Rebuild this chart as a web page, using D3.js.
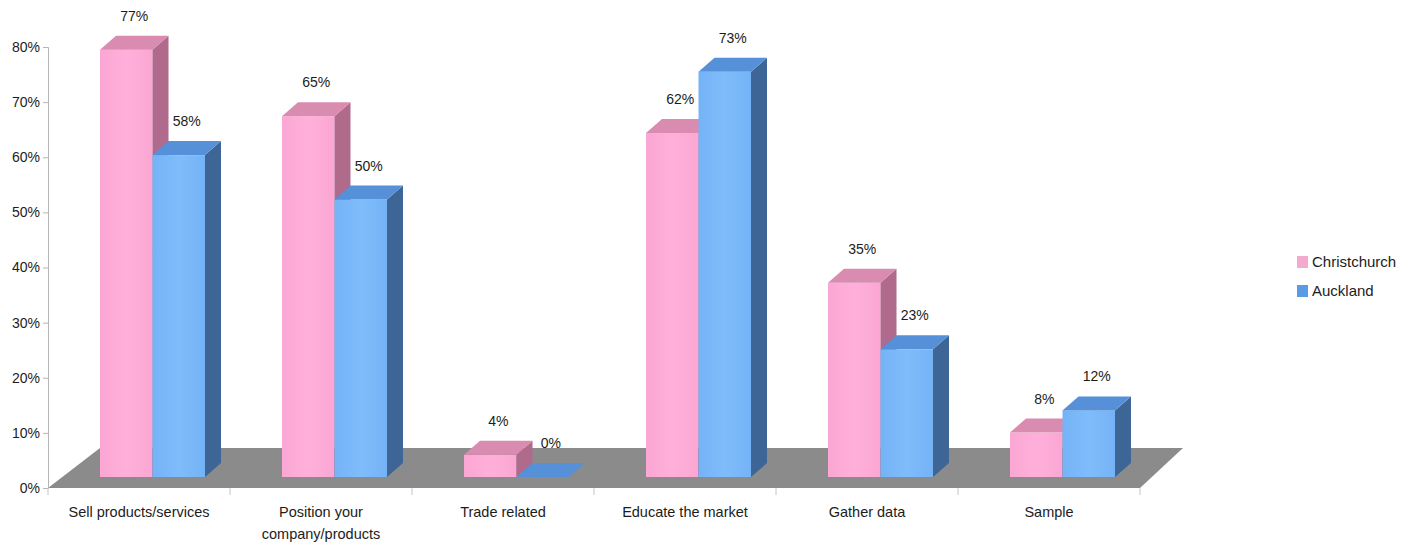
<!DOCTYPE html>
<html>
<head>
<meta charset="utf-8">
<script src="https://cdn.jsdelivr.net/npm/d3@7"></script>
<style>
  html, body { margin: 0; padding: 0; background: #ffffff; }
  svg { display: block; }
  text { font-family: "Liberation Sans", Arial, sans-serif; fill: #1c1c1c; }
</style>
</head>
<body>
<svg id="chart" width="1416" height="546"></svg>
<script>
const categories = ["Sell products/services", "Position your\ncompany/products", "Trade related", "Educate the market", "Gather data", "Sample"];
const seriesNames = ["Christchurch", "Auckland"];
const christchurch = [77, 65, 4, 62, 35, 8];
const auckland = [58, 50, 0, 73, 23, 12];
const yTicks = [0, 10, 20, 30, 40, 50, 60, 70, 80];

const colors = {
  Christchurch: { front: "#fba6d4", light: "#ffb0da", top: "#d98bb0", side: "#b06a8c", legend: "#f4a9cf" },
  Auckland: { front: "#74b3f6", light: "#7fbcfb", top: "#5590d8", side: "#3d6596", legend: "#5a9be6" }
};

const svg = d3.select("#chart");
const defs = svg.append("defs");
seriesNames.forEach(s => {
  const g = defs.append("linearGradient").attr("id", "grad-" + s).attr("x1", "0").attr("x2", "1").attr("y1", "0").attr("y2", "0");
  g.append("stop").attr("offset", "0%").attr("stop-color", colors[s].front);
  g.append("stop").attr("offset", "50%").attr("stop-color", colors[s].light);
  g.append("stop").attr("offset", "100%").attr("stop-color", colors[s].front);
});

// scales
const y = d3.scaleLinear().domain([0, 80]).range([488, 47]);
const barY = d3.scaleLinear().domain([0, 80]).range([477, 33]);
const x = d3.scaleBand().domain(categories).range([48, 1140]).paddingInner(0).paddingOuter(0);
const groupWidth = 105;
const xs = d3.scaleBand().domain(seriesNames).range([0, groupWidth]);
const shiftX = 13.5;            // depth shift of bars on floor
const depth = { dx: 16, dy: -14 }; // bar 3D depth
const floorDepth = { dxL: 52, dxR: 43, dy: -40 };

// floor
const x0 = x.range()[0], x1 = x.range()[1], yb = y(0);
svg.append("polygon")
  .attr("points", [[x0, yb], [x1, yb], [x1 + floorDepth.dxR, yb + floorDepth.dy], [x0 + floorDepth.dxL, yb + floorDepth.dy]].map(p => p.join(",")).join(" "))
  .attr("fill", "#8b8b8b");

// y axis
const yAxis = d3.axisLeft(y).tickValues(yTicks).tickFormat(d => d + "%").tickSize(5).tickPadding(3);
const gy = svg.append("g").attr("transform", `translate(${x0},0)`).call(yAxis);
gy.select(".domain").attr("stroke", "#b5b5b5");
gy.selectAll(".tick line").attr("stroke", "#b5b5b5");
gy.selectAll(".tick text").attr("font-size", 14).attr("font-family", "Liberation Sans, Arial, sans-serif").attr("fill", "#1c1c1c");

// x tick marks at band boundaries
const boundaries = categories.map(c => x(c)).concat([x1]);
svg.append("g").selectAll("line").data(boundaries).join("line")
  .attr("x1", d => d).attr("x2", d => d).attr("y1", yb).attr("y2", yb + 7)
  .attr("stroke", "#c4c4c4");

// bars
const data = categories.map((c, i) => ({ cat: c, values: [ { s: "Christchurch", v: christchurch[i] }, { s: "Auckland", v: auckland[i] } ] }));
const offset = (x.bandwidth() - groupWidth) / 2 + shiftX;

data.forEach(d => {
  const g = svg.append("g");
  d.values.forEach(b => {
    const bx0 = x(d.cat) + offset + xs(b.s);
    const bx1 = bx0 + xs.bandwidth();
    const top = barY(b.v);
    const base = barY(0);
    const c = colors[b.s];
    if (b.v > 0) {
      g.append("rect").attr("x", bx0).attr("y", top).attr("width", bx1 - bx0).attr("height", base - top)
        .attr("fill", `url(#grad-${b.s})`);
      g.append("polygon")
        .attr("points", [[bx1, top], [bx1 + depth.dx, top + depth.dy], [bx1 + depth.dx, base + depth.dy], [bx1, base]].map(p => p.join(",")).join(" "))
        .attr("fill", c.side);
    }
    g.append("polygon")
      .attr("points", [[bx0, top], [bx1, top], [bx1 + depth.dx, top + depth.dy], [bx0 + depth.dx, top + depth.dy]].map(p => p.join(",")).join(" "))
      .attr("fill", c.top);
  });
});

// value labels
data.forEach(d => {
  d.values.forEach(b => {
    const bx0 = x(d.cat) + offset + xs(b.s);
    svg.append("text")
      .attr("x", bx0 + xs.bandwidth() / 2 + depth.dx / 2)
      .attr("y", barY(b.v) + depth.dy - 15)
      .attr("text-anchor", "middle")
      .attr("font-size", 14)
      .text(b.v + "%");
  });
});

// category labels
const xl = svg.append("g");
categories.forEach(c => {
  const lines = c.split("\n");
  const t = xl.append("text").attr("x", x(c) + x.bandwidth() / 2).attr("y", 517).attr("text-anchor", "middle").attr("font-size", 14.5);
  lines.forEach((ln, i) => {
    t.append("tspan").attr("x", x(c) + x.bandwidth() / 2).attr("dy", i === 0 ? 0 : 22).text(ln);
  });
});

// legend
const legend = svg.append("g").attr("transform", "translate(1297,256)");
seriesNames.forEach((s, i) => {
  const row = legend.append("g").attr("transform", `translate(0,${i * 29})`);
  row.append("rect").attr("width", 11).attr("height", 12).attr("fill", colors[s].legend);
  row.append("text").attr("x", 15).attr("y", 11).attr("font-size", 15).text(s);
});
</script>
</body>
</html>
